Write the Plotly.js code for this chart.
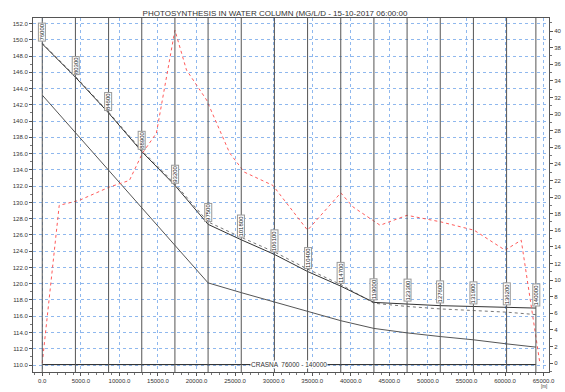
<!DOCTYPE html>
<html>
<head>
<meta charset="utf-8">
<script src="https://cdn.plot.ly/plotly-3.0.1.min.js"></script>
<style>html,body{margin:0;padding:0;background:#fff;}#chart{width:565px;height:392px;}</style>
</head>
<body>
<div id="chart"></div>
<script>
// Section chainages (labels) and their distances along the river [m]
const sectionLabels = ["76000","80300","84600","88900","93200","97500","101800","106100","110400","114700","119000","123300","127600","131900","136200","140000"];
const sectionDist = [0,4300,8600,12900,17200,21500,25800,30100,34400,38700,43000,47300,51600,55900,60200,64000];

// Water level (solid) and second level (dotted) at sections
const levelSolid = [149.5,145.4,141.0,136.25,132.1,127.3,125.4,123.6,121.5,119.7,117.7,117.5,117.3,117.2,117.1,117.0];
const levelDotted = [149.6,145.5,141.1,136.4,132.3,127.6,125.7,123.9,121.8,119.9,117.6,117.2,116.9,116.7,116.5,116.2];
// Bed level at sections
const bedLevel = [143.2,138.6,134.0,129.4,124.8,120.1,118.9,117.75,116.6,115.45,114.5,113.95,113.5,113.1,112.6,112.2];

// Photosynthesis in water column (right axis)
const photoX = [0,2200,4800,8700,11300,13000,14800,17200,18700,21300,24300,26200,29900,34400,38700,40300,43800,47300,51700,56000,60000,62100,64500];
const photoY = [0,19.0,19.6,21.2,22.0,25.3,27.7,40.1,35.3,31.7,25.3,23.0,21.4,16.0,20.5,18.8,16.6,17.8,17.0,16.0,13.6,14.8,0.1];

// Reach baseline
const reachX = [0,64000];
const reachY = [110.05,110.05];
const reachLabel = "CRASNA  76000 - 140000";

const titleText = "PHOTOSYNTHESIS IN WATER COLUMN (MG/L/D - 15-10-2017 06:00:00";

const font = {family:"Liberation Sans, Arial, sans-serif", size:7, color:"#333"};
const gridBlue = "#8fb8ee";

const traces = [
  {x:sectionDist, y:levelDotted, mode:"lines", line:{color:"#777", width:1, dash:"dot"}, hoverinfo:"skip"},
  {x:sectionDist, y:levelSolid, mode:"lines", line:{color:"#333", width:1}, hoverinfo:"skip"},
  {x:sectionDist, y:bedLevel, mode:"lines", line:{color:"#555", width:1}, hoverinfo:"skip"},
  {x:reachX, y:reachY, mode:"lines", line:{color:"#222", width:1}, hoverinfo:"skip"},
  {x:photoX, y:photoY, yaxis:"y2", mode:"lines", line:{color:"#ff5a5a", width:1, dash:"dot"}, hoverinfo:"skip"}
];

const shapes = sectionDist.map(d => ({type:"line", xref:"x", yref:"paper", x0:d, x1:d, y0:0, y1:1, line:{color:"#555", width:1}, layer:"above"}));

const annotations = sectionDist.map((d,i) => ({
  x:d, y:levelSolid[i], xref:"x", yref:"y", text:sectionLabels[i], showarrow:false,
  textangle:-90, xanchor:"center", yanchor:"bottom", yshift:2,
  bgcolor:"#fff", bordercolor:"#999", borderwidth:1, borderpad:0,
  font:{family:font.family, size:6, color:"#222"}
}));
annotations.push({x:(reachX[0]+reachX[1])/2, y:reachY[0], xref:"x", yref:"y", text:reachLabel, showarrow:false,
  xanchor:"center", yanchor:"middle", bgcolor:"#fff", borderpad:0, font:{family:font.family, size:6.5, color:"#333"}});
annotations.push({x:1, y:0, xref:"paper", yref:"paper", yshift:-18, xshift:-5, text:"[m]", showarrow:false,
  xanchor:"center", yanchor:"bottom", borderpad:0, font:{family:font.family, size:4.5, color:"#333"}});

const layout = {
  width:565, height:392,
  margin:{l:33, r:16, t:18, b:20},
  paper_bgcolor:"#fff", plot_bgcolor:"#fff",
  showlegend:false,
  font:font,
  title:{text:titleText, x:0.469, xanchor:"center", xref:"paper", y:0.967, yanchor:"middle", font:{family:font.family, size:8, color:"#333"}},
  xaxis:{range:[-1200,65700], tick0:0, dtick:5000, tickformat:".1f", ticks:"outside", ticklen:3, tickcolor:"#555",
    showline:true, linecolor:"#555", linewidth:1, mirror:true,
    showgrid:true, gridcolor:gridBlue, griddash:"dot", gridwidth:1, zeroline:false,
    minor:{dtick:1000, ticks:"outside", ticklen:2, tickcolor:"#777", showgrid:false},
    tickfont:{size:6}},
  yaxis:{range:[109.14,152.68], tick0:110, dtick:2, tickformat:".1f", ticks:"outside", ticklen:3, tickcolor:"#555",
    showline:true, linecolor:"#555", linewidth:1,
    showgrid:true, gridcolor:gridBlue, griddash:"dot", gridwidth:1, zeroline:false,
    minor:{dtick:1, ticks:"outside", ticklen:2, tickcolor:"#777", showgrid:false},
    tickfont:{size:6}},
  yaxis2:{range:[-1.08,41.57], overlaying:"y", side:"right", tick0:0, dtick:2, tickformat:"d", ticks:"outside", ticklen:3, tickcolor:"#555",
    showline:true, linecolor:"#555", linewidth:1, showgrid:false, zeroline:false,
    minor:{dtick:1, ticks:"outside", ticklen:2, tickcolor:"#777", showgrid:false},
    tickfont:{size:6}},
  shapes:shapes,
  annotations:annotations
};

Plotly.newPlot("chart", traces, layout, {displayModeBar:false, staticPlot:true});
</script>
</body>
</html>
